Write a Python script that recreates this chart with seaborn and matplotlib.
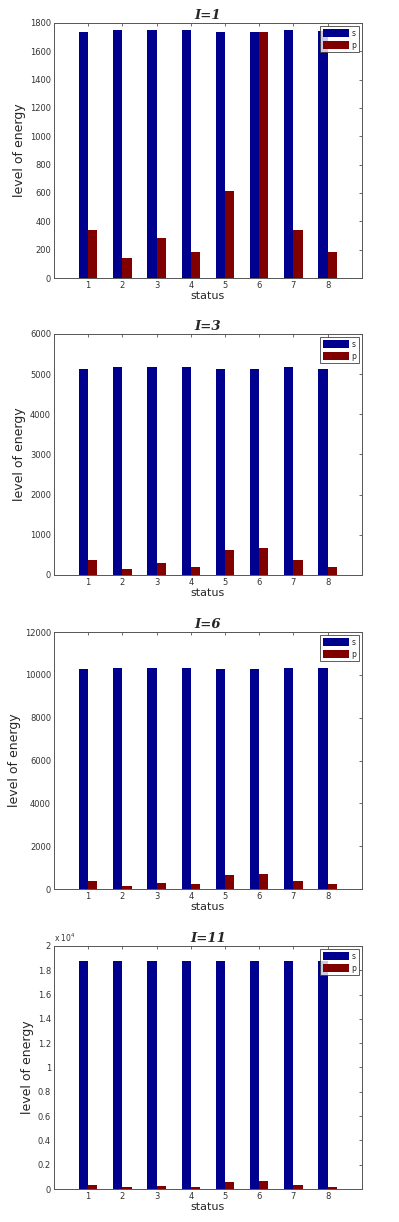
import numpy as np
import pandas as pd
import matplotlib
matplotlib.use("Agg")
import matplotlib.pyplot as plt
import seaborn as sns
from matplotlib.ticker import FuncFormatter

# data
status = [1, 2, 3, 4, 5, 6, 7, 8]
titles = ["I=1", "I=3", "I=6", "I=11"]

s_i1 = [1739, 1753, 1753, 1753, 1739, 1739, 1753, 1742]
p_i1 = [337, 144, 281, 186, 613, 1739, 337, 186]

s_i3 = [5136, 5169, 5169, 5169, 5136, 5136, 5169, 5140]
p_i3 = [366, 158, 291, 199, 623, 665, 366, 199]

s_i6 = [10288, 10319, 10319, 10319, 10288, 10288, 10319, 10300]
p_i6 = [374, 156, 296, 218, 638, 700, 374, 218]

s_i11 = [18795, 18795, 18795, 18795, 18795, 18795, 18795, 18795]
p_i11 = [329, 164, 274, 192, 603, 685, 329, 192]

ylims = [1800, 6000, 12000, 20000]
ysteps = [200, 1000, 2000, 2000]

S_COLOR = "#00008F"
P_COLOR = "#800000"

sns.set_style("white")
plt.rcParams["font.family"] = ["DejaVu Sans"]

fig = plt.figure(figsize=(3.99, 12.22), dpi=100)

# axes boxes in figure fraction (left, bottom, width, height)
boxes = [
    (0.135, 0.7725, 0.772, 0.2087),
    (0.135, 0.5295, 0.772, 0.1972),
    (0.135, 0.2725, 0.772, 0.2103),
    (0.135, 0.0270, 0.772, 0.1989),
]

series = [(s_i1, p_i1), (s_i3, p_i3), (s_i6, p_i6), (s_i11, p_i11)]

for k, (s_vals, p_vals) in enumerate(series):
    ax = fig.add_axes(boxes[k])
    df = pd.DataFrame({
        "status": [str(v) for v in status] * 2,
        "series": ["s"] * len(status) + ["p"] * len(status),
        "value": list(s_vals) + list(p_vals),
    })
    sns.barplot(data=df, x="status", y="value", hue="series",
                palette={"s": S_COLOR, "p": P_COLOR}, width=0.54,
                saturation=1, linewidth=0, errorbar=None, ax=ax)

    ax.set_xlim(-1, 8)
    ax.set_ylim(0, ylims[k])
    ax.set_yticks(np.arange(0, ylims[k] + 1, ysteps[k]))
    if k == 3:
        ax.yaxis.set_major_formatter(FuncFormatter(lambda v, pos: f"{v / 1e4:g}"))
        ax.text(0.0, 1.01, r"x 10$^4$", transform=ax.transAxes, fontsize=5.5,
                color="#333333", ha="left", va="bottom")
    else:
        ax.yaxis.set_major_formatter(FuncFormatter(lambda v, pos: f"{v:g}"))

    ax.tick_params(axis="both", direction="in", length=2.5, width=0.5,
                   labelsize=6, colors="#333333", top=True, right=True,
                   pad=2)
    for sp in ax.spines.values():
        sp.set_color("#555555")
        sp.set_linewidth(0.7)
        sp.set_visible(True)

    ax.set_xlabel("status", fontsize=8, labelpad=1)
    ax.set_ylabel("level of energy", fontsize=9, labelpad=3)
    ax.set_title(titles[k], fontsize=9.5, family="DejaVu Serif",
                 fontweight="bold", fontstyle="italic", pad=3)

    leg = ax.legend(loc="upper right", fontsize=5.5, frameon=True,
                    fancybox=False, handlelength=3.4, handleheight=1.2,
                    borderaxespad=0.4, borderpad=0.35, labelspacing=0.4,
                    handletextpad=0.3)
    leg.get_frame().set_edgecolor("#333333")
    leg.get_frame().set_linewidth(0.7)

fig.savefig("out.png", dpi=100)
